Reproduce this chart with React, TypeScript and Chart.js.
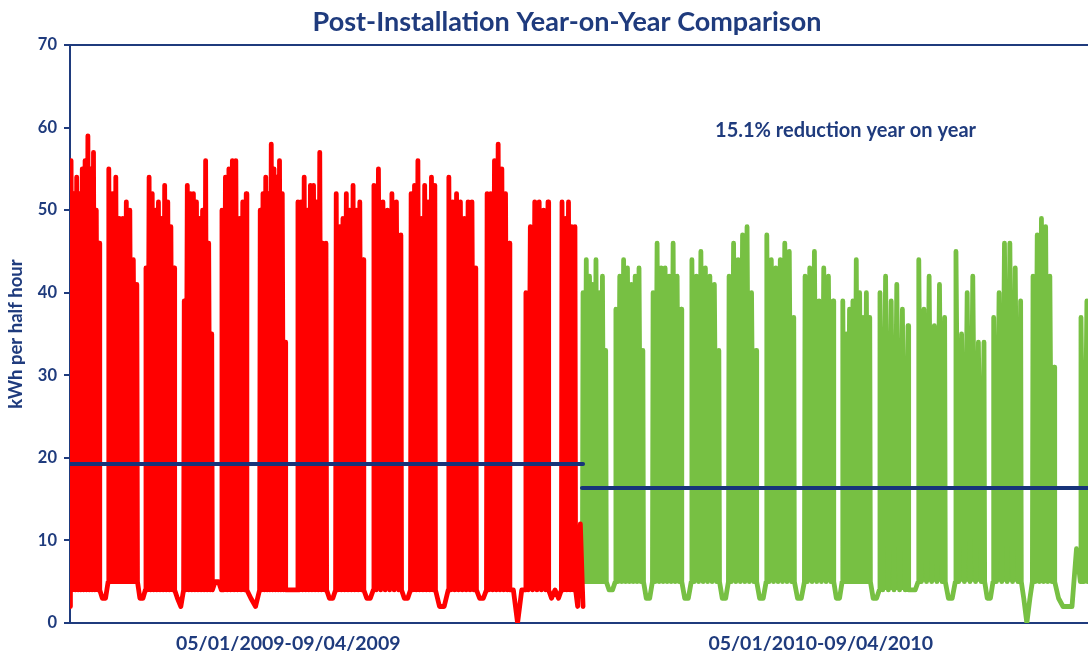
import React, { useEffect, useRef } from 'react';
import { Chart, registerables } from 'chart.js';

Chart.register(...registerables);

const NAVY = '#1F3B7D';
const RED = '#FF0000';
const GREEN = '#77C043';
const AVG = '#17347A';

const TITLE = 'Post-Installation Year-on-Year Comparison';
const Y_TITLE = 'kWh per half hour';
const PERIOD_LABELS = ['05/01/2009-09/04/2009', '05/01/2010-09/04/2010'];
const PERIOD_LABEL_DAYS = [40.5, 139.3];
const NOTE = '15.1% reduction year on year';
const NOTE_DAY = 119.7;
const NOTE_VALUE = 59.6;
const X_MAX_DAY = 188.9;

// periods (days since 05/01/2009 on a shared axis)
const periodStart = [0, 95];
const periodEnd = [95.2, 189];
const periodAverage = [19.25, 16.35];

// ---- 2009 (red) ----
const redLead = [2];
const redBlockStart = [0.2, 7.2, 14.1, 21.2, 28.2, 35.3, 42.3, 49.4, 56.4, 63.3, 70.3, 77.4, 84.6, 91.3];
const redBlockEnd = [5.4, 12.4, 19.3, 26.3, 32.7, 39.9, 47.5, 54.4, 61.4, 67.7, 75.3, 81.5, 88.7, 93.7];
const redBlockLow = [4, 5, 4, 4, 4, 4, 4, 4, 4, 4, 4, 4, 4, 4];
const redTops = [
  [56, 52, 54, 52, 55, 56, 59, 55, 57, 50, 46],
  [55, 52, 54, 49, 49, 51, 50, 44, 41],
  [43, 54, 52, 50, 51, 49, 53, 51, 48, 43],
  [39, 53, 52, 52, 51, 49, 50, 56, 46, 35],
  [50, 54, 55, 56, 56, 49, 51, 52],
  [50, 52, 54, 52, 58, 55, 54, 56, 52, 34],
  [51, 51, 54, 50, 53, 53, 51, 57, 46, 46],
  [52, 48, 49, 52, 50, 53, 50, 51, 44],
  [53, 55, 51, 50, 52, 51, 47],
  [52, 53, 56, 49, 53, 51, 54, 53],
  [54, 51, 52, 51, 49, 51, 51, 43],
  [52, 52, 56, 58, 55, 52, 46],
  [40, 48, 51, 51, 50, 51],
  [51, 49, 51, 48, 48],
];
const redGaps = [
  [3, 3], [3, 3], [3, 2], [5, 5], [3, 2], [4, 4], [3, 3],
  [3, 3], [3, 3], [2, 2], [3, 3], [4, 0, 4], [3, 4, 3],
];
const redTail = [2, 12, 2];

// ---- 2010 (green) ----
const greenLead = [7];
const greenBlockStart = [95.2, 101.3, 108.2, 115.4, 122.3, 129.3, 136.4, 143.4, 150.3, 157.5, 164.4, 171.4, 178.7, 187.6];
const greenBlockEnd = [99.4, 106.3, 113.4, 120.4, 127.3, 134.3, 141.6, 148.4, 155.5, 162.3, 169.6, 176.4, 182.6, 188.7];
const greenBlockLow = [5, 5, 5, 5, 5, 5, 5, 5, 4, 5, 5, 5, 5, 5];
const greenTops = [
  [40, 44, 42, 41, 44, 40, 42, 33],
  [38, 42, 44, 43, 41, 42, 43, 33],
  [40, 46, 43, 43, 42, 46, 42, 38],
  [44, 42, 45, 43, 42, 41, 33],
  [42, 46, 44, 47, 48, 40, 33],
  [47, 44, 43, 44, 46, 45, 37],
  [42, 43, 45, 39, 43, 42, 39],
  [39, 35, 38, 39, 44, 40, 37, 40, 37],
  [40, 42, 39, 41, 38, 36],
  [44, 38, 42, 36, 41, 37],
  [45, 35, 40, 42, 34, 34],
  [37, 40, 46, 46, 43, 39],
  [42, 47, 49, 48, 42, 31],
  [37, 39],
];
const greenGaps = [
  [4, 4], [3, 3], [3, 3], [3, 3], [3, 3], [3, 3], [3, 3],
  [3, 3], [4, 4], [3, 3], [3, 3], [3, 0, 3], [3, 2, 2, 2, 9],
];
const greenTail: number[] = [];

type Pt = { x: number; y: number };

// returns the load line and, at the same x values, the overnight base level it rises from
function buildSeries(
  lead: number[], starts: number[], ends: number[], tops: number[][], lows: number[],
  gaps: number[][], tail: number[], pStart: number, pEnd: number
): { line: Pt[]; base: Pt[] } {
  const line: Pt[] = [];
  const base: Pt[] = [];
  const add = (x: number, y: number, b: number) => {
    line.push({ x, y });
    base.push({ x, y: b });
  };
  lead.forEach((v, k) => add(pStart + ((starts[0] - pStart) * k) / lead.length, v, v));
  starts.forEach((s, i) => {
    const e = ends[i];
    const t = tops[i];
    const L = lows[i];
    const step = t.length > 1 ? (e - s) / (t.length - 1) : 0;
    add(s - 0.12, L, L);
    t.forEach((v, k) => {
      const x = s + step * k;
      if (k > 0) add(x - step / 2, L, L);
      add(x, v, L);
    });
    add(e + 0.12, L, L);
    if (i < starts.length - 1) {
      const g = gaps[i];
      const next = starts[i + 1];
      g.forEach((v, k) => add(e + ((next - e) * (k + 1)) / (g.length + 1), v, v));
    }
  });
  const lastEnd = ends[ends.length - 1];
  tail.forEach((v, k) => add(lastEnd + ((pEnd - lastEnd) * (k + 1)) / tail.length, v, v));
  return { line, base };
}

const textPlugin = {
  id: 'chartTexts',
  afterDraw(chart: any) {
    const ctx = chart.ctx;
    ctx.save();
    ctx.fillStyle = NAVY;
    ctx.textBaseline = 'middle';
    ctx.textAlign = 'center';
    ctx.font = 'bold 27px Lato';
    ctx.fillText(TITLE, 567, 22);
    const xs = chart.scales.x;
    const ys = chart.scales.y;
    ctx.textAlign = 'left';
    ctx.font = 'bold 20px Lato';
    ctx.fillText(NOTE, xs.getPixelForValue(NOTE_DAY), ys.getPixelForValue(NOTE_VALUE));
    ctx.restore();
  },
};

export default function App() {
  const ref = useRef<HTMLCanvasElement | null>(null);
  useEffect(() => {
    if (!ref.current) return;
    const red = buildSeries(redLead, redBlockStart, redBlockEnd, redTops, redBlockLow, redGaps, redTail, periodStart[0], periodEnd[0]);
    const green = buildSeries(greenLead, greenBlockStart, greenBlockEnd, greenTops, greenBlockLow, greenGaps, greenTail, periodStart[1], periodEnd[1]);
    const avgSets = periodAverage.map((v, i) => ({
      label: 'avg' + i,
      data: [{ x: periodStart[i], y: v }, { x: periodEnd[i], y: v }],
      borderColor: AVG,
      borderWidth: 4,
      pointRadius: 0,
      fill: false,
      borderCapStyle: 'round' as const,
    }));
    const loadSet = (label: string, data: Pt[], color: string) => ({
      label, data, borderColor: color, backgroundColor: color, fill: '+1',
      borderWidth: 4.8, pointRadius: 0, borderJoinStyle: 'round', borderCapStyle: 'round',
    });
    const baseSet = (label: string, data: Pt[]) => ({
      label, data, borderColor: 'rgba(0,0,0,0)', borderWidth: 0, pointRadius: 0, fill: false,
    });
    const chart = new Chart(ref.current, {
      type: 'line',
      data: {
        datasets: [
          ...avgSets,
          loadSet('2009', red.line, RED),
          baseSet('2009 base', red.base),
          loadSet('2010', green.line, GREEN),
          baseSet('2010 base', green.base),
        ] as any,
      },
      options: {
        responsive: false,
        animation: false,
        layout: { padding: { top: 45, left: 0, right: 0, bottom: 0 } },
        plugins: {
          legend: { display: false },
          tooltip: { enabled: false },
          title: { display: false },
          filler: { propagate: false },
        },
        scales: {
          x: {
            type: 'linear',
            min: 0,
            max: X_MAX_DAY,
            afterBuildTicks: (scale: any) => {
              scale.ticks = PERIOD_LABEL_DAYS.map((v) => ({ value: v }));
            },
            afterFit: (scale: any) => { scale.height = 33; },
            ticks: {
              autoSkip: false,
              maxRotation: 0,
              padding: 9,
              color: NAVY,
              font: { family: 'Lato', size: 19.5, weight: 'bold' },
              callback: (value: any) => {
                const i = PERIOD_LABEL_DAYS.indexOf(Number(value));
                return i >= 0 ? PERIOD_LABELS[i] : '';
              },
            },
            grid: { display: false, drawTicks: false },
            border: { display: true, color: NAVY, width: 2 },
          },
          y: {
            min: 0,
            max: 70,
            afterFit: (scale: any) => { scale.width = 70; },
            ticks: {
              stepSize: 10,
              padding: 7,
              color: NAVY,
              font: { family: 'Lato', size: 16.5, weight: 'bold' },
            },
            title: {
              display: true,
              text: Y_TITLE,
              color: NAVY,
              padding: { top: 5, bottom: 0 },
              font: { family: 'Lato', size: 18.5, weight: 'bold' },
            },
            grid: {
              color: (c: any) => (c.tick && c.tick.value === 70 ? NAVY : 'rgba(0,0,0,0)'),
              lineWidth: 2,
              drawTicks: true,
              tickLength: 6,
              tickColor: NAVY,
              tickWidth: 2,
            },
            border: { display: true, color: NAVY, width: 2 },
          },
        },
      } as any,
      plugins: [textPlugin],
    });
    return () => chart.destroy();
  }, []);
  return (
    <div style={{ position: 'absolute', left: 0, top: 0, width: 1088, height: 656, background: '#fff' }}>
      <canvas ref={ref} width={1088} height={656} />
    </div>
  );
}
